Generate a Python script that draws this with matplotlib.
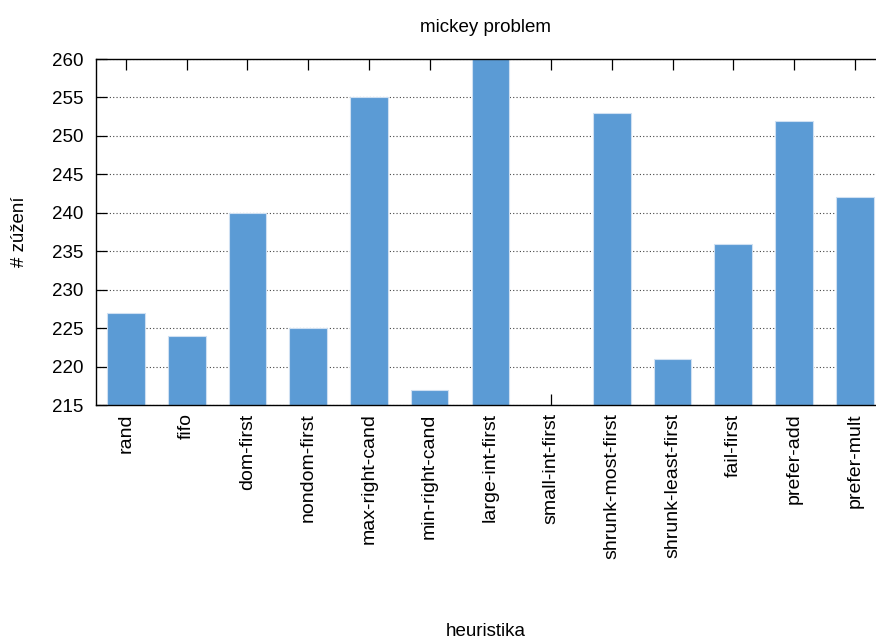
import numpy as np
import matplotlib.pyplot as plt

plt.rcParams['font.family'] = ['Liberation Sans', 'DejaVu Sans']

heuristics = ["rand", "fifo", "dom-first", "nondom-first", "max-right-cand",
              "min-right-cand", "large-int-first", "small-int-first",
              "shrunk-most-first", "shrunk-least-first", "fail-first",
              "prefer-add", "prefer-mult"]
narrowings = [227, 224, 240, 225, 255, 217, 260, 215, 253, 221, 236, 252, 242]

W, H = 876, 640
fig = plt.figure(figsize=(W / 100, H / 100), dpi=100)
ax = fig.add_axes([96 / W, 1 - 405 / H, (W - 96) / W, (405 - 59) / H])

x = np.arange(len(heuristics))
ax.bar(x, np.array(narrowings) - 215, bottom=215, width=0.62,
       color="#5b9bd5", edgecolor="#cfe0f2", linewidth=0.8, zorder=2)

ax.set_xlim(-0.494, 12.35)
ax.set_ylim(215, 260)
ax.set_yticks(np.arange(215, 261, 5))
ax.yaxis.grid(True, linestyle=(0, (1, 2)), color="#444444", linewidth=0.8, zorder=1)

ax.set_xticks(x)
ax.set_xticklabels(heuristics, rotation=90, fontsize=14)
ax.tick_params(axis="x", direction="in", length=8, top=True, pad=6, width=0.9)
ax.tick_params(axis="y", direction="in", length=8, labelsize=13.5, pad=9, width=0.9)

ax.spines["right"].set_visible(False)
for s in ["left", "top", "bottom"]:
    ax.spines[s].set_linewidth(1.0)

fig.text(486 / W, 1 - 27 / H, "mickey problem", ha="center", va="center", fontsize=13.5)
fig.text(20 / W, 1 - 232 / H, "# zúžení", ha="center", va="center",
         rotation=90, fontsize=13.5)
fig.text(486 / W, 1 - 631 / H, "heuristika", ha="center", va="center", fontsize=13.5)

fig.savefig("out.png", dpi=100)
